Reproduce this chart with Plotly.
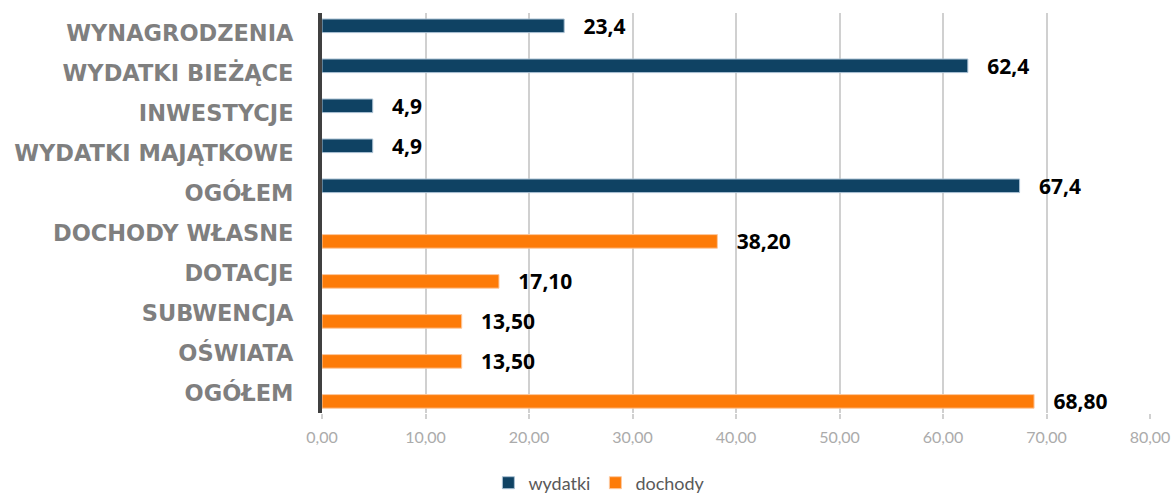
import plotly.graph_objects as go

categories = ["WYNAGRODZENIA", "WYDATKI BIEŻĄCE", "INWESTYCJE", "WYDATKI MAJĄTKOWE", "OGÓŁEM",
              "DOCHODY WŁASNE", "DOTACJE", "SUBWENCJA", "OŚWIATA", "OGÓŁEM"]
wydatki_vals = [23.4, 62.4, 4.9, 4.9, 67.4]
wydatki_text = ["23,4", "62,4", "4,9", "4,9", "67,4"]
dochody_vals = [38.20, 17.10, 13.50, 13.50, 68.80]
dochody_text = ["38,20", "17,10", "13,50", "13,50", "68,80"]
x_ticks = [0, 10, 20, 30, 40, 50, 60, 70, 80]

pos = list(range(len(categories)))
nw = len(wydatki_vals)
pad = "\u00a0\u00a0\u00a0"

label_font = dict(family="Open Sans", size=21, color="black", weight="bold")

fig = go.Figure()
fig.add_trace(go.Bar(
    name="wydatki", orientation="h",
    x=wydatki_vals, y=pos[:nw],
    offset=-0.35, width=0.34,
    marker=dict(color="#0f4263", line=dict(color="#a9c0d3", width=1)),
    text=[pad + t for t in wydatki_text], textposition="outside",
    constraintext="none", textfont=label_font,
    cliponaxis=False,
))
fig.add_trace(go.Bar(
    name="dochody", orientation="h",
    x=dochody_vals, y=pos[nw:],
    offset=0.04, width=0.34,
    marker=dict(color="#fd7b08", line=dict(color="#fdc9a0", width=1)),
    text=[pad + t for t in dochody_text], textposition="outside",
    constraintext="none", textfont=label_font,
    cliponaxis=False,
))

fig.update_layout(
    width=1176, height=493,
    margin=dict(l=322, r=26, t=13, b=80, autoexpand=False),
    paper_bgcolor="white", plot_bgcolor="white",
    separators=", ",
    barmode="overlay",
    showlegend=True,
    legend=dict(orientation="h", xref="paper", yref="paper",
                x=0.335, y=-0.175, xanchor="center", yanchor="middle",
                font=dict(family="Lato", size=18, color="#595959"),
                itemwidth=30, traceorder="normal"),
    xaxis=dict(range=[0, 80], tickvals=x_ticks, tickformat=".2f",
               showgrid=True, gridcolor="#d0d0d0", gridwidth=1.5,
               zeroline=False, showline=False, automargin=False,
               ticks="outside", ticklen=5, tickcolor="#d0d0d0", tickwidth=1.5,
               ticklabelstandoff=5,
               tickfont=dict(family="Lato", size=16, color="#ababab")),
    yaxis=dict(range=[9.5, -0.5], tickvals=pos, ticktext=categories,
               showgrid=False, zeroline=False, automargin=False,
               showline=True, linecolor="#404040", linewidth=4,
               ticks="", ticklabelstandoff=20,
               tickfont=dict(family="DejaVu Sans", size=22.5, color="#7f7f7f", weight="bold")),
)

fig.write_html("out.html", config={"displayModeBar": False},
               post_script="document.body.style.margin='0';document.body.style.overflow='hidden';")
